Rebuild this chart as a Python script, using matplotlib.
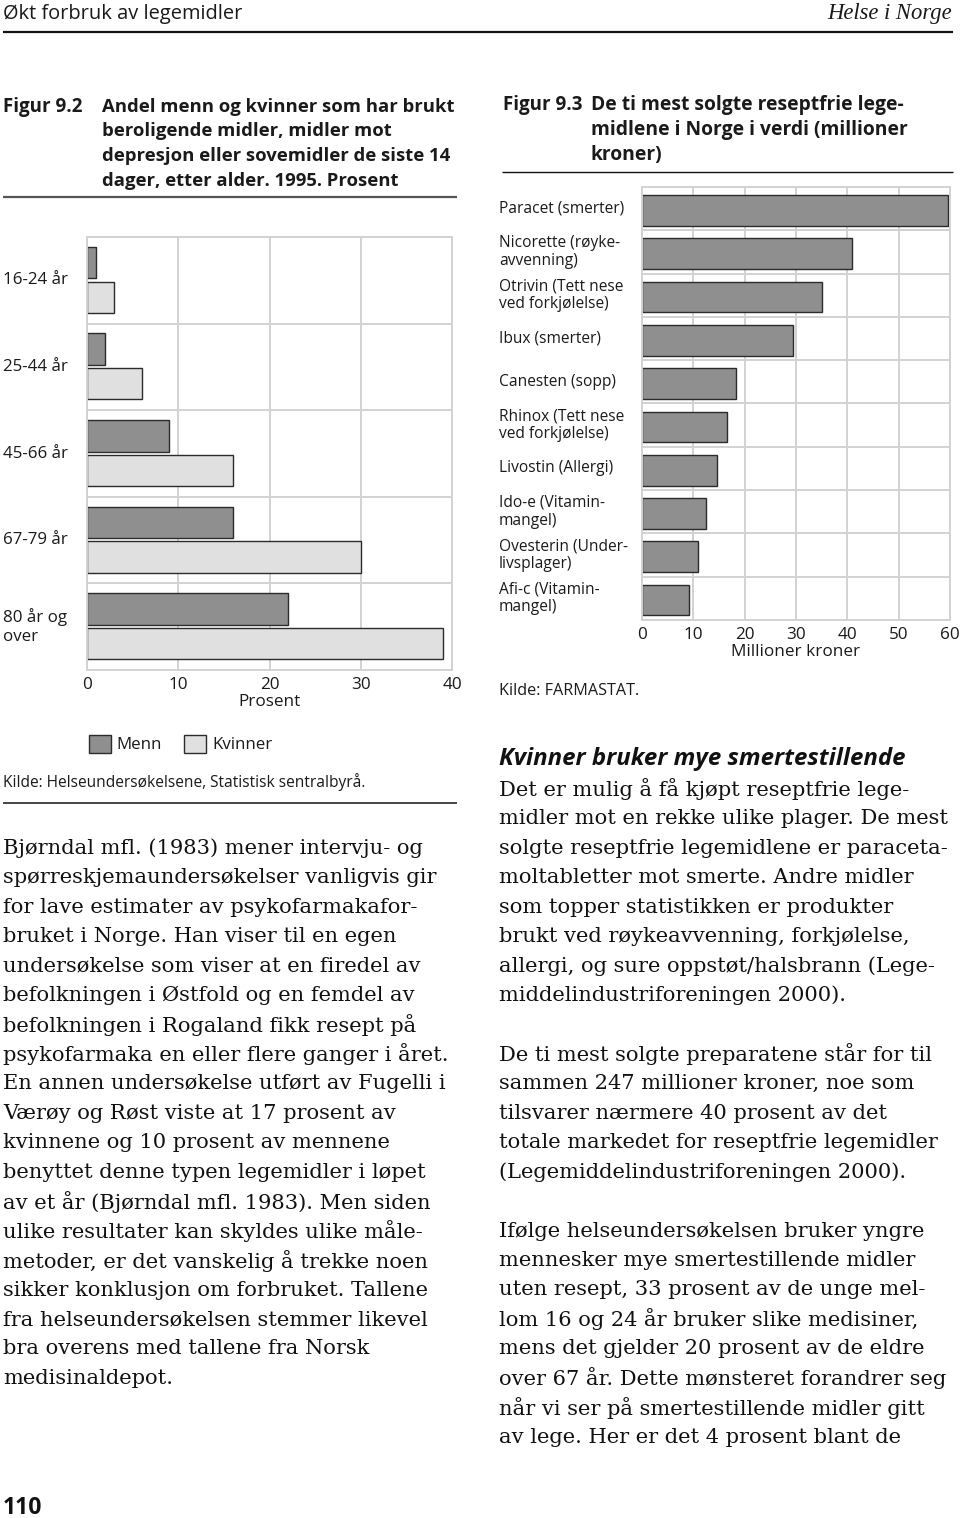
import matplotlib
matplotlib.use("Agg")
import matplotlib.pyplot as plt
from matplotlib import transforms
from matplotlib.lines import Line2D

# ---------------- data ----------------
age_groups = ["16-24 år", "25-44 år", "45-66 år", "67-79 år", "80 år og\nover"]
menn = [1, 2, 9, 16, 22]
kvinner = [3, 6, 16, 30, 39]
left_ticks = [0, 10, 20, 30, 40]

products = ["Paracet (smerter)", "Nicorette (røyke-\navvenning)",
            "Otrivin (Tett nese\nved forkjølelse)", "Ibux (smerter)",
            "Canesten (sopp)", "Rhinox (Tett nese\nved forkjølelse)",
            "Livostin (Allergi)", "Ido-e (Vitamin-\nmangel)",
            "Ovesterin (Under-\nlivsplager)", "Afi-c (Vitamin-\nmangel)"]
sales = [59.5, 40.8, 35.1, 29.4, 18.3, 16.5, 14.7, 12.5, 10.9, 9.1]
right_ticks = [0, 10, 20, 30, 40, 50, 60]

left_text = [
    "Bjørndal mfl. (1983) mener intervju- og",
    "spørreskjemaundersøkelser vanligvis gir",
    "for lave estimater av psykofarmakafor-",
    "bruket i Norge. Han viser til en egen",
    "undersøkelse som viser at en firedel av",
    "befolkningen i Østfold og en femdel av",
    "befolkningen i Rogaland fikk resept på",
    "psykofarmaka en eller flere ganger i året.",
    "En annen undersøkelse utført av Fugelli i",
    "Værøy og Røst viste at 17 prosent av",
    "kvinnene og 10 prosent av mennene",
    "benyttet denne typen legemidler i løpet",
    "av et år (Bjørndal mfl. 1983). Men siden",
    "ulike resultater kan skyldes ulike måle-",
    "metoder, er det vanskelig å trekke noen",
    "sikker konklusjon om forbruket. Tallene",
    "fra helseundersøkelsen stemmer likevel",
    "bra overens med tallene fra Norsk",
    "medisinaldepot.",
]
right_text = [
    "Det er mulig å få kjøpt reseptfrie lege-",
    "midler mot en rekke ulike plager. De mest",
    "solgte reseptfrie legemidlene er paraceta-",
    "moltabletter mot smerte. Andre midler",
    "som topper statistikken er produkter",
    "brukt ved røykeavvenning, forkjølelse,",
    "allergi, og sure oppstøt/halsbrann (Lege-",
    "middelindustriforeningen 2000).",
    "",
    "De ti mest solgte preparatene står for til",
    "sammen 247 millioner kroner, noe som",
    "tilsvarer nærmere 40 prosent av det",
    "totale markedet for reseptfrie legemidler",
    "(Legemiddelindustriforeningen 2000).",
    "",
    "Ifølge helseundersøkelsen bruker yngre",
    "mennesker mye smertestillende midler",
    "uten resept, 33 prosent av de unge mel-",
    "lom 16 og 24 år bruker slike medisiner,",
    "mens det gjelder 20 prosent av de eldre",
    "over 67 år. Dette mønsteret forandrer seg",
    "når vi ser på smertestillende midler gitt",
    "av lege. Her er det 4 prosent blant de",
]

# ---------------- style ----------------
W, H = 960, 1518
SANS = "Open Sans"
SERIF = "DejaVu Serif"
GRID = "#d2d2d2"
DARK = "#8f8f8f"
LIGHT = "#e0e0e0"
EDGE = "#2b2b2b"
TXT = "#1a1a1a"

fig = plt.figure(figsize=(W / 100, H / 100), dpi=100)
fig.patch.set_facecolor("white")


def fx(x):
    return x / W


def fy(y):
    return 1 - y / H


def hline(x0, x1, y, lw, color):
    fig.add_artist(Line2D([fx(x0), fx(x1)], [fy(y), fy(y)], lw=lw, color=color,
                          transform=fig.transFigure, solid_capstyle="butt"))


# ---------------- page header ----------------
fig.text(fx(3), fy(14), "Økt forbruk av legemidler", family=SANS, fontsize=14.4,
         va="center", ha="left", color=TXT)
fig.text(fx(952), fy(14), "Helse i Norge", family="Liberation Serif", style="italic",
         fontsize=16.3, va="center", ha="right", color=TXT)
hline(3, 953, 32, 1.6, "#111111")

# ---------------- figure titles ----------------
tl = ["Andel menn og kvinner som har brukt", "beroligende midler, midler mot",
      "depresjon eller sovemidler de siste 14", "dager, etter alder. 1995. Prosent"]
fig.text(fx(3), fy(106.7), "Figur 9.2", family=SANS, weight="bold", fontsize=13.5,
         va="center", color=TXT)
for i, s in enumerate(tl):
    fig.text(fx(101.7), fy(106.7 + 24.7 * i), s, family=SANS, weight="bold",
             fontsize=13.3, va="center", color=TXT)
hline(3, 457, 196.7, 1.6, "#555555")

tr = ["De ti mest solgte reseptfrie lege-", "midlene i Norge i verdi (millioner", "kroner)"]
fig.text(fx(503), fy(105), "Figur 9.3", family=SANS, weight="bold", fontsize=13.5,
         va="center", color=TXT)
for i, s in enumerate(tr):
    fig.text(fx(591), fy(105 + 25 * i), s, family=SANS, weight="bold",
             fontsize=13.9, va="center", color=TXT)
hline(502, 953, 172.3, 1.0, "#111111")


def style_axes(ax):
    ax.set_facecolor("white")
    for sp in ax.spines.values():
        sp.set_color(GRID)
        sp.set_linewidth(1.4)
    ax.grid(True, color=GRID, lw=1.4)
    ax.set_axisbelow(True)
    ax.tick_params(length=0, labelsize=12.3, labelcolor=TXT, pad=5)
    ax.set_yticklabels([])


# ---------------- left chart ----------------
axL = fig.add_axes([fx(87), fy(670), (452 - 87) / W, (670 - 237) / H])
n = len(age_groups)
yy = list(range(n))
bm = axL.barh([y + 0.295 for y in yy], menn, height=0.365, color=DARK,
              edgecolor=EDGE, lw=1.0, label="Menn")
bk = axL.barh([y + 0.695 for y in yy], kvinner, height=0.36, color=LIGHT,
              edgecolor=EDGE, lw=1.0, label="Kvinner")
axL.set_xlim(0, 40)
axL.set_ylim(n, 0)
axL.set_xticks(left_ticks)
axL.set_yticks(range(1, n))
style_axes(axL)
axL.set_xticklabels([str(t) for t in left_ticks], family=SANS)
axL.set_xlabel("Prosent", family=SANS, fontsize=12.3, color=TXT, labelpad=1)
trL = transforms.blended_transform_factory(fig.transFigure, axL.transData)
for i, g in enumerate(age_groups):
    axL.text(fx(3), i + 0.5, g, transform=trL, family=SANS, fontsize=12.2,
             va="center", ha="left", color=TXT, linespacing=1.25)

leg = fig.legend(handles=[bm, bk], labels=["Menn", "Kvinner"], loc="center left",
                 bbox_to_anchor=(fx(88.7), fy(744)), ncol=2, frameon=False,
                 prop={"family": SANS, "size": 12.2}, handlelength=1.3,
                 handleheight=1.3, handletextpad=0.36, columnspacing=1.3,
                 borderpad=0, borderaxespad=0)
for t in leg.get_texts():
    t.set_color(TXT)

fig.text(fx(3), fy(781.7), "Kilde: Helseundersøkelsene, Statistisk sentralbyrå.",
         family=SANS, fontsize=11.2, va="center", color=TXT)
hline(3, 457, 803.3, 1.4, "#444444")

# ---------------- right chart ----------------
axR = fig.add_axes([fx(641.7), fy(620), (950.3 - 641.7) / W, (620 - 187) / H])
m = len(products)
axR.barh([i + 0.54 for i in range(m)], sales, height=0.71, color=DARK,
         edgecolor=EDGE, lw=1.0)
axR.set_xlim(0, 60)
axR.set_ylim(m, 0)
axR.set_xticks(right_ticks)
axR.set_yticks(range(1, m))
style_axes(axR)
axR.set_xticklabels([str(t) for t in right_ticks], family=SANS)
axR.set_xlabel("Millioner kroner", family=SANS, fontsize=12.3, color=TXT, labelpad=1)
trR = transforms.blended_transform_factory(fig.transFigure, axR.transData)
for i, p in enumerate(products):
    axR.text(fx(499), i + 0.5, p, transform=trR, family=SANS, fontsize=11.2,
             va="center", ha="left", color=TXT, linespacing=1.15)

fig.text(fx(499), fy(691), "Kilde: FARMASTAT.", family=SANS, fontsize=11.6,
         va="center", color=TXT)

# ---------------- body text ----------------
BODY = 15.1
LS = 29.45
for i, s in enumerate(left_text):
    fig.text(fx(3), fy(848.3 + LS * i), s, family=SERIF, fontsize=BODY,
             va="center", ha="left", color="#111111")

fig.text(fx(499), fy(759.3), "Kvinner bruker mye smertestillende", family=SANS,
         weight="bold", style="italic", fontsize=17.3, va="center", color="#111111")
for i, s in enumerate(right_text):
    if s:
        fig.text(fx(499), fy(789.3 + LS * i), s, family=SERIF, fontsize=BODY,
                 va="center", ha="left", color="#111111")

fig.text(fx(3), fy(1508), "110", family=SANS, weight="bold", fontsize=16.5,
         va="center", color="#111111")

fig.savefig("out.png", dpi=100, facecolor="white")
